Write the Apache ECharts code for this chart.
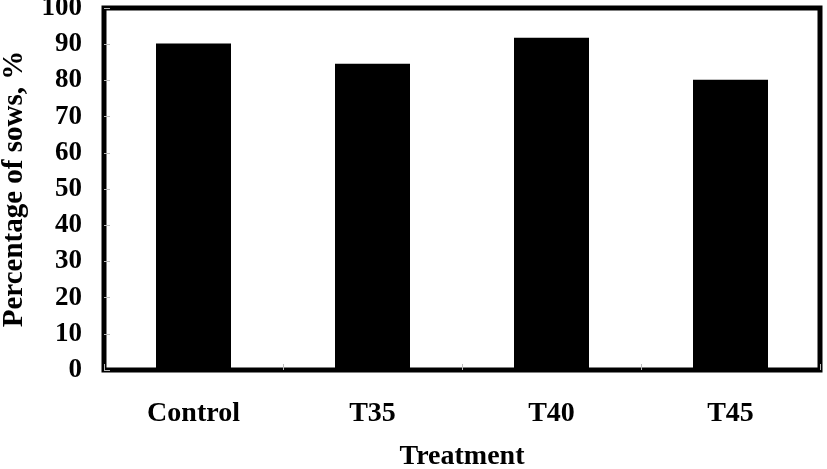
<!DOCTYPE html>
<html>
<head>
<meta charset="utf-8">
<script src="https://cdn.jsdelivr.net/npm/echarts@6/dist/echarts.min.js"></script>
<style>
  html, body { margin: 0; padding: 0; background: #fff; }
  #chart { width: 827px; height: 469px; }
</style>
</head>
<body>
<div id="chart"></div>
<script>
// data
const categories = ["Control", "T35", "T40", "T45"];
const sowPercent = [90.2, 84.6, 91.8, 80.2];
const yMin = 0, yMax = 100, yStep = 10;

const font = "'Liberation Serif', 'Times New Roman', serif";

const chart = echarts.init(document.getElementById("chart"));
chart.setOption({
  animation: false,
  backgroundColor: "#fff",
  grid: {
    left: 104,
    top: 8,
    width: 716,
    height: 362,
    outerBoundsMode: "none",
    containLabel: false,
    show: true,
    borderWidth: 5,
    borderColor: "#000",
    backgroundColor: "transparent"
  },
  xAxis: {
    type: "category",
    data: categories,
    name: "Treatment",
    nameLocation: "middle",
    nameGap: 73,
    nameTextStyle: { fontFamily: font, fontWeight: "bold", fontSize: 28, color: "#000" },
    axisLine: { show: false },
    axisTick: { show: true, inside: true, length: 6, lineStyle: { color: "#bbb" } },
    axisLabel: { margin: 30, fontFamily: font, fontWeight: "bold", fontSize: 28, color: "#000" },
    splitLine: { show: false }
  },
  yAxis: {
    type: "value",
    min: yMin,
    max: yMax,
    interval: yStep,
    name: "Percentage of sows, %",
    nameLocation: "middle",
    nameGap: 75,
    nameTextStyle: { fontFamily: font, fontWeight: "bold", fontSize: 29, color: "#000" },
    axisLine: { show: false },
    axisTick: { show: true, inside: true, length: 6, lineStyle: { color: "#bbb" } },
    axisLabel: { margin: 22, fontFamily: font, fontWeight: "bold", fontSize: 27, color: "#000" },
    splitLine: { show: false }
  },
  series: [
    {
      type: "bar",
      data: sowPercent,
      barWidth: 75,
      itemStyle: { color: "#000" }
    }
  ]
});
</script>
</body>
</html>
